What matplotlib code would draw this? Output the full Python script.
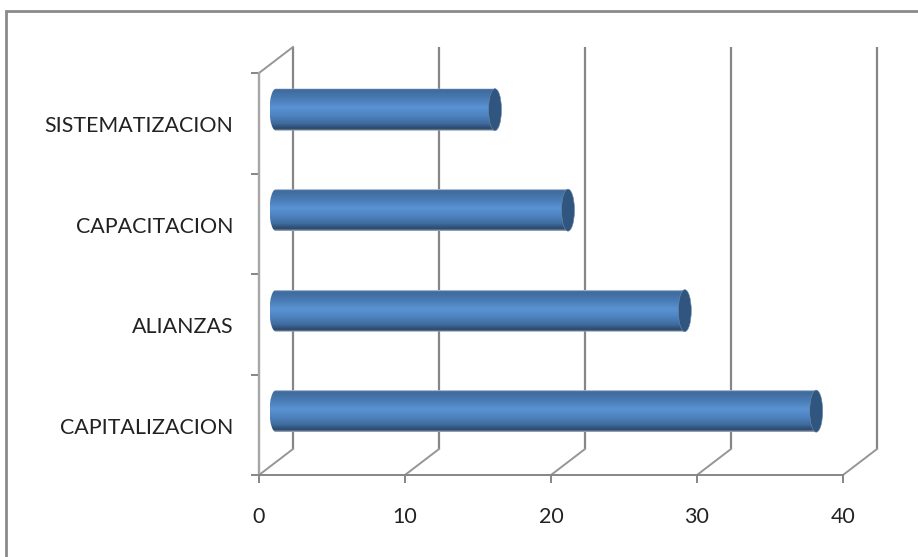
import numpy as np
import matplotlib
matplotlib.use('Agg')
from matplotlib import pyplot as plt
from matplotlib.path import Path
from matplotlib.patches import Ellipse, PathPatch
from matplotlib.lines import Line2D
from matplotlib.transforms import Affine2D

# values
categories = ['CAPITALIZACION', 'ALIANZAS', 'CAPACITACION', 'SISTEMATIZACION']
values = [37, 28, 20, 15]
x_ticks = [0, 10, 20, 30, 40]

W, H = 918, 557
plt.rcParams['font.family'] = ['Lato', 'DejaVu Sans']

fig = plt.figure(figsize=(W / 100, H / 100), dpi=100, facecolor='white')

# outer frame, only left and top are inside the image
fig.add_artist(Line2D([6.3 / W, 6.3 / W, 1], [0, 1 - 11.4 / H, 1 - 11.4 / H],
                      transform=fig.transFigure, color='#8a8a8a', linewidth=2,
                      solid_joinstyle='miter'))

# axes front plane in pixels
left, right, bottom, top = 259, 843, 475, 73
ax = fig.add_axes([left / W, 1 - bottom / H, (right - left) / W, (bottom - top) / H])
ax.set_xlim(0, 40)
ax.set_ylim(-0.5, 3.5)
ax.patch.set_visible(False)

px_x = 40 / (right - left)
px_y = 4 / (bottom - top)
depth_x = 34 * px_x
depth_y = 26 * px_y

# back wall gridlines and the slanted floor lines
for t in x_ticks:
    ax.plot([t + depth_x, t + depth_x], [-0.5 + depth_y, 3.5 + depth_y], color='#868686',
            lw=1.6, clip_on=False, zorder=1, solid_capstyle='butt')
    ax.plot([t, t + depth_x], [-0.5, -0.5 + depth_y], color='#969696',
            lw=1.4, clip_on=False, zorder=1)
ax.plot([0, depth_x], [3.5, 3.5 + depth_y], color='#969696', lw=1.4, clip_on=False, zorder=1)

# cylinders
cmap = matplotlib.colors.LinearSegmentedColormap.from_list('cyl', [
    (0.0, '#c3cfe0'), (0.03, '#3f6a9c'), (0.2, '#4677ae'), (0.45, '#5a92d4'),
    (0.62, '#4f85c2'), (0.82, '#3f6c9f'), (0.95, '#2b4768'), (1.0, '#a3b0c2')])
gradient = np.linspace(0, 1, 200).reshape(-1, 1)
rx = 6.5 * px_x
ry = 21 * px_y
k = 0.5523
for i, v in enumerate(values):
    cx = depth_x / 2
    cy = i + depth_y / 2 + 0.6 * px_y
    end = v + cx
    start = cx
    verts = [(end, cy - ry), (start, cy - ry),
             (start - k * rx, cy - ry), (start - rx, cy - k * ry), (start - rx, cy),
             (start - rx, cy + k * ry), (start - k * rx, cy + ry), (start, cy + ry),
             (end, cy + ry), (end, cy - ry)]
    codes = [Path.MOVETO, Path.LINETO, Path.CURVE4, Path.CURVE4, Path.CURVE4,
             Path.CURVE4, Path.CURVE4, Path.CURVE4, Path.LINETO, Path.CLOSEPOLY]
    outline = PathPatch(Path(verts, codes), transform=ax.transData, facecolor='none',
                        edgecolor='none', zorder=2)
    ax.add_patch(outline)
    im = ax.imshow(gradient, extent=(start - rx, end, cy - ry, cy + ry), cmap=cmap,
                   aspect='auto', origin='upper', zorder=2, clip_on=True)
    im.set_clip_path(outline)
    ax.add_patch(Ellipse((end, cy), 2 * rx, 2 * ry, facecolor='#30557f',
                         edgecolor='#6f8aab', linewidth=0.4, zorder=3, clip_on=False))
ax.set_xlim(0, 40)
ax.set_ylim(-0.5, 3.5)

# axes
for s in ['top', 'right']:
    ax.spines[s].set_visible(False)
ax.spines['bottom'].set_color('#868686')
ax.spines['bottom'].set_linewidth(1.4)
ax.spines['left'].set_color('#a6a6a6')
ax.spines['left'].set_linewidth(1.7)

ax.set_xticks(x_ticks)
ax.set_xticklabels([str(t) for t in x_ticks])
ax.set_yticks([-0.5, 0.5, 1.5, 2.5, 3.5])
ax.set_yticklabels([])
ax.set_yticks(range(len(categories)), labels=categories, minor=True)
ax.tick_params(axis='both', which='major', color='#868686', length=5.5, width=1.4)
ax.tick_params(axis='x', labelsize=15.4, pad=17.3, labelcolor='#222222')
ax.tick_params(axis='y', which='minor', length=0, labelsize=15.4, pad=18.5, labelcolor='#222222')
# labels sit a little under the category centre
for tick in ax.yaxis.get_minor_ticks():
    tick.label1.set_transform(tick.label1.get_transform() + Affine2D().translate(0, -1))

fig.savefig('out.png', dpi=100)
